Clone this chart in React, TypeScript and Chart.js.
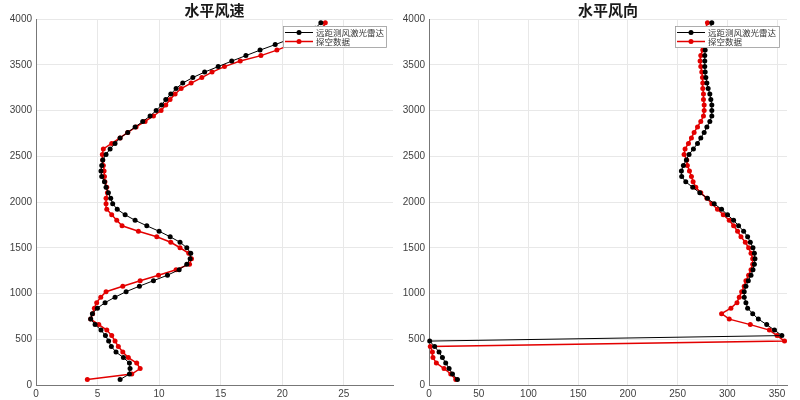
import React, { useEffect, useRef } from "react";
import { Chart, registerables } from "chart.js";

Chart.register(...registerables);

const heights = [
  60, 120, 180, 240, 300, 360, 420, 480, 540, 600, 660, 720, 780, 840, 900, 960,
  1020, 1080, 1140, 1200, 1260, 1320, 1380, 1440, 1500, 1560, 1620, 1680, 1740, 1800,
  1860, 1920, 1980, 2040, 2100, 2160, 2220, 2280, 2340, 2400, 2460, 2520, 2580, 2640,
  2700, 2760, 2820, 2880, 2940, 3000, 3060, 3120, 3180, 3240, 3300, 3360, 3420, 3480,
  3540, 3600, 3660, 3720, 3780, 3840, 3900, 3960,
];

const lidarSpeed = [
  6.83, 7.59, 7.64, 7.59, 7.1, 6.5, 6.12, 5.9, 5.64, 5.28, 4.8, 4.44, 4.58, 4.99, 5.61, 6.42,
  7.32, 8.4, 9.54, 10.68, 11.63, 12.25, 12.52, 12.57, 12.25, 11.7, 10.9, 10.0, 9.0, 8.05,
  7.24, 6.6, 6.23, 6.07, 5.88, 5.69, 5.56, 5.34, 5.28, 5.34, 5.42, 5.69, 6.02, 6.42,
  6.83, 7.45, 8.05, 8.67, 9.27, 9.76, 10.2, 10.54, 10.95, 11.38, 11.92, 12.74, 13.7, 14.8,
  15.9, 17.05, 18.2, 19.43, 20.6, 21.9, 22.7, 23.14,
];

const sondeSpeed = [
  4.17, 7.78, 8.46, 8.18, 7.5, 7.05, 6.69, 6.42, 6.15, 5.75, 5.1, 4.44, 4.6, 4.74, 4.93, 5.26,
  5.69, 7.05, 8.46, 9.95, 11.38, 12.47, 12.63, 12.41, 11.7, 10.95, 9.81, 8.32, 6.99, 6.56,
  6.15, 5.75, 5.69, 5.69, 5.8, 5.75, 5.6, 5.56, 5.53, 5.47, 5.42, 5.39, 5.47, 6.15,
  6.83, 7.45, 8.13, 8.86, 9.54, 10.16, 10.54, 10.89, 11.3, 11.79, 12.6, 13.47, 14.3, 15.31,
  16.59, 18.27, 19.57, 20.7, 21.8, 22.7, 23.3, 23.5,
];

const lidarDir = [
  28.6, 23.6, 20.2, 16.8, 13.5, 10.1, 5.7, 0.7, 354.8, 347.4, 339.6, 331.2, 325.5, 320.4, 318.7, 317,
  317, 318.7, 321.1, 323.8, 325.8, 327.2, 327.8, 327.2, 325.8, 323.1, 320.4, 316.4, 311.3, 306.3,
  300.2, 294.2, 286.8, 280, 272.3, 265.2, 258.2, 254.1, 253.8, 255.8, 258.8, 261.5, 265.9, 270,
  273.3, 276.7, 279.4, 282.4, 284.4, 284.4, 284.4, 283.4, 282.4, 280.7, 279.4, 278.4, 277.7, 277.3,
  277.3, 277.3, 277.7, 278, 279, 281, 283, 284.4,
];

const sondeDir = [
  26.9, 21.9, 15.1, 7.4, 4, 3.4, 1.3, 357.5, 350, 342.3, 323.1, 301.9, 294.2, 303.6, 309.7, 312,
  314.4, 317, 318.7, 321.4, 323.8, 325.5, 325.5, 323.8, 321.4, 318.1, 313.7, 310.3, 306.3, 301.9,
  295.9, 290.1, 284.4, 279.4, 273.3, 268.3, 265.6, 263.9, 261.9, 259.8, 259.2, 256.5, 257.5, 260.9,
  263.9, 266.6, 270, 273.3, 276, 276.7, 276.7, 276, 276, 275.3, 275.3, 275, 274.3, 273.3,
  272.6, 273.3, 275.3, 275.5, 276, 277, 278.5, 280,
];

const seriesNames = ["远距测风激光雷达", "探空数据"];
const titles = ["水平风速", "水平风向"];
const heightTicks = [0, 500, 1000, 1500, 2000, 2500, 3000, 3500, 4000];
const speedTicks = [0, 5, 10, 15, 20, 25];
const dirTicks = [0, 50, 100, 150, 200, 250, 300, 350];
const heightRange = { min: 0, max: 4000 };
const speedRange = { min: 0, max: 29 };
const dirRange = { min: 0, max: 360 };

const BLACK = "#000000";
const RED = "#e30000";

const zip = (xs: number[], ys: number[]) => xs.map((v, i) => ({ x: v, y: ys[i] }));

const overlayPlugin = {
  id: "overlay",
  afterDraw(chart: any, _args: any, opts: any) {
    const ctx = chart.ctx;
    const ca = chart.chartArea;
    ctx.save();
    ctx.fillStyle = "#1a1a1a";
    ctx.font = "bold 15px 'Noto Sans CJK SC'";
    ctx.textAlign = "center";
    ctx.textBaseline = "middle";
    ctx.fillText(opts.title, (ca.left + ca.right) / 2, 10);
    const bx = opts.legendX;
    const by = 26;
    const bw = opts.legendW;
    const bh = 22;
    ctx.fillStyle = "#ffffff";
    ctx.fillRect(bx, by, bw, bh);
    ctx.strokeStyle = "#999999";
    ctx.lineWidth = 0.8;
    ctx.strokeRect(bx + 0.5, by + 0.5, bw - 1, bh - 1);
    const entries = [
      { c: BLACK, w: 1, t: seriesNames[0] },
      { c: RED, w: 1.5, t: seriesNames[1] },
    ];
    entries.forEach((e, i) => {
      const cy = by + 6.5 + i * 9;
      ctx.strokeStyle = e.c;
      ctx.lineWidth = e.w;
      ctx.beginPath();
      ctx.moveTo(bx + 2, cy);
      ctx.lineTo(bx + 30, cy);
      ctx.stroke();
      ctx.fillStyle = e.c;
      ctx.beginPath();
      ctx.arc(bx + 16, cy, 2.5, 0, Math.PI * 2);
      ctx.fill();
      ctx.fillStyle = "#333333";
      ctx.font = "8.5px 'Noto Sans CJK SC'";
      ctx.textAlign = "left";
      ctx.textBaseline = "middle";
      ctx.fillText(e.t, bx + 33, cy);
    });
    ctx.restore();
  },
};

function makeConfig(
  blackVals: number[],
  redVals: number[],
  xr: { min: number; max: number },
  xTicks: number[],
  yWidth: number,
  padRight: number,
  title: string,
  legendX: number,
  legendW: number
): any {
  const tickFont = { family: "'Liberation Sans', Arial, sans-serif", size: 10 };
  return {
    type: "scatter",
    data: {
      datasets: [
        {
          label: seriesNames[0],
          data: zip(blackVals, heights),
          showLine: true,
          borderColor: BLACK,
          backgroundColor: BLACK,
          borderWidth: 1,
          pointRadius: 2.5,
          pointBorderWidth: 0,
          clip: 4,
        },
        {
          label: seriesNames[1],
          data: zip(redVals, heights),
          showLine: true,
          borderColor: RED,
          backgroundColor: RED,
          borderWidth: 1.5,
          pointRadius: 2.5,
          pointBorderWidth: 0,
          clip: 4,
        },
      ],
    },
    options: {
      responsive: false,
      animation: false,
      devicePixelRatio: 1,
      layout: { padding: { top: 19, right: padRight, left: 0, bottom: 0 } },
      plugins: {
        legend: { display: false },
        tooltip: { enabled: false },
        overlay: { title, legendX, legendW },
      },
      scales: {
        x: {
          type: "linear",
          min: xr.min,
          max: xr.max,
          ticks: {
            font: tickFont,
            color: "#404040",
            padding: 3,
            maxRotation: 0,
            autoSkip: false,
            callback: (v: any) => String(v),
          },
          grid: { color: "#e8e8e8", drawTicks: false },
          border: { color: "#777777", width: 1 },
          afterBuildTicks: (s: any) => {
            s.ticks = xTicks.map((v) => ({ value: v }));
          },
          afterFit: (s: any) => {
            s.height = 15;
          },
        },
        y: {
          type: "linear",
          min: heightRange.min,
          max: heightRange.max,
          ticks: {
            font: tickFont,
            color: "#404040",
            padding: 4,
            autoSkip: false,
            callback: (v: any) => String(v),
          },
          grid: { color: "#e8e8e8", drawTicks: false },
          border: { color: "#777777", width: 1 },
          afterBuildTicks: (s: any) => {
            s.ticks = heightTicks.map((v) => ({ value: v }));
          },
          afterFit: (s: any) => {
            s.width = yWidth;
          },
        },
      },
    },
    plugins: [overlayPlugin],
  };
}

function Panel(props: { cfg: any; left: number }) {
  const ref = useRef<HTMLCanvasElement | null>(null);
  useEffect(() => {
    if (!ref.current) return;
    const chart = new Chart(ref.current, props.cfg);
    return () => chart.destroy();
  }, []);
  return (
    <canvas
      ref={ref}
      width={400}
      height={400}
      style={{ position: "absolute", left: props.left, top: 0, width: 400, height: 400 }}
    />
  );
}

export default function App() {
  const leftCfg = makeConfig(lidarSpeed, sondeSpeed, speedRange, speedTicks, 36, 7, titles[0], 283, 104);
  const rightCfg = makeConfig(lidarDir, sondeDir, dirRange, dirTicks, 29, 13, titles[1], 275, 105);
  return (
    <div style={{ position: "fixed", left: 0, top: 0, width: 800, height: 400, background: "#fff" }}>
      <Panel cfg={leftCfg} left={0} />
      <Panel cfg={rightCfg} left={400} />
    </div>
  );
}
